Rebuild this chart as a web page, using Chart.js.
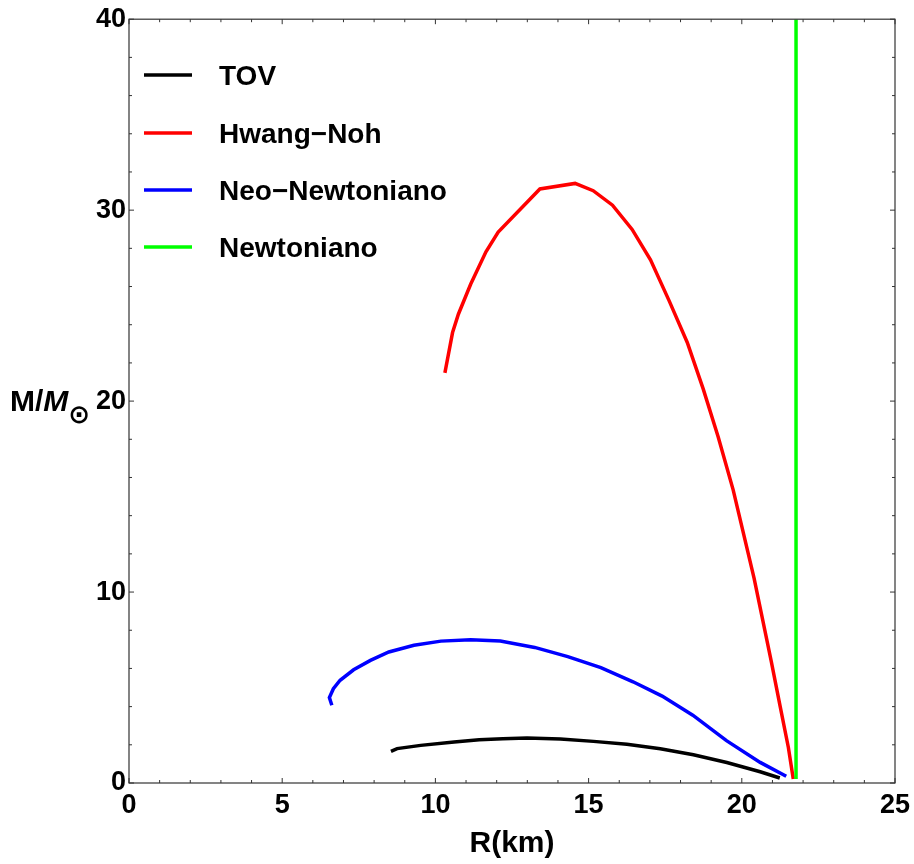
<!DOCTYPE html>
<html>
<head>
<meta charset="utf-8">
<script src="https://cdn.jsdelivr.net/npm/chart.js@4.4.1/dist/chart.umd.min.js"></script>
<style>
  html, body { margin: 0; padding: 0; background: #fff; }
  #wrap { width: 914px; height: 864px; }
</style>
</head>
<body>
<div id="wrap"><canvas id="chart" width="914" height="864"></canvas></div>
<script>
// series names
const names = ["TOV", "Hwang\u2212Noh", "Neo\u2212Newtoniano", "Newtoniano"]
const colors = ["#000000", "#ff0000", "#0000ff", "#00ff00"]

// TOV
const tovR = [8.55, 8.75, 9.52, 10.61, 11.43, 12.2, 12.99, 14.08, 15.16, 16.25, 17.34, 18.42, 19.51, 20.6, 21.24]
const tovM = [1.66, 1.8, 1.97, 2.15, 2.27, 2.32, 2.36, 2.3, 2.18, 2.03, 1.79, 1.48, 1.07, 0.59, 0.26]

// Hwang-Noh
const hnR = [10.31, 10.56, 10.75, 11.15, 11.65, 12.05, 13.41, 14.56, 15.15, 15.78, 16.42, 17.02, 17.63, 18.22, 18.74, 19.23, 19.72, 20.4, 20.96, 21.25, 21.52, 21.68]
const hnM = [21.48, 23.59, 24.55, 26.12, 27.82, 28.85, 31.11, 31.4, 31.02, 30.26, 28.99, 27.4, 25.25, 23.07, 20.64, 18.12, 15.34, 10.73, 6.38, 4.03, 1.86, 0.21]

// Neo-Newtoniano
const neoR = [6.62, 6.54, 6.67, 6.89, 7.33, 7.88, 8.48, 9.3, 10.18, 11.15, 12.12, 13.24, 14.32, 15.4, 16.45, 17.4, 18.4, 19.5, 20.6, 21.45]
const neoM = [4.07, 4.47, 4.94, 5.38, 5.93, 6.42, 6.86, 7.21, 7.43, 7.5, 7.44, 7.1, 6.62, 6.04, 5.3, 4.55, 3.55, 2.22, 1.08, 0.35]

// Newtoniano
const newtR = [21.77, 21.77]
const newtM = [0.21, 40]

// axes
const xTicks = [0, 5, 10, 15, 20, 25]
const yTicks = [0, 10, 20, 30, 40]

const toPoints = (rs, ms) => rs.map((r, i) => ({x: r, y: ms[i]}))

const seriesR = [tovR, hnR, neoR, newtR]
const seriesM = [tovM, hnM, neoM, newtM]

const datasets = names.map((name, i) => ({
  label: name,
  data: toPoints(seriesR[i], seriesM[i]),
  borderColor: colors[i],
  backgroundColor: colors[i],
  borderWidth: 3.5,
  showLine: true,
  pointRadius: 0,
  tension: 0,
  order: names.length - i
}))

const FONT = "'Liberation Sans', Arial, sans-serif"

// frame with inward ticks, legend and the y title (Mathematica style)
const framePlugin = {
  id: "frame",
  afterDatasetsDraw(chart) {
    const ctx = chart.ctx
    const a = chart.chartArea
    const xs = chart.scales.x, ys = chart.scales.y
    ctx.save()
    ctx.strokeStyle = "#333"
    ctx.lineWidth = 1.2
    ctx.strokeRect(a.left, a.top, a.right - a.left, a.bottom - a.top)
    ctx.lineWidth = 1
    for (let v = 0; v <= 25; v += 1) {
      const px = xs.getPixelForValue(v)
      const len = v % 5 === 0 ? 5 : 3
      ctx.beginPath()
      ctx.moveTo(px, a.bottom); ctx.lineTo(px, a.bottom - len)
      ctx.moveTo(px, a.top); ctx.lineTo(px, a.top + len)
      ctx.stroke()
    }
    for (let v = 0; v <= 40; v += 2) {
      const py = ys.getPixelForValue(v)
      const len = v % 10 === 0 ? 5 : 3
      ctx.beginPath()
      ctx.moveTo(a.left, py); ctx.lineTo(a.left + len, py)
      ctx.moveTo(a.right, py); ctx.lineTo(a.right - len, py)
      ctx.stroke()
    }

    // legend
    const rows = [75, 133, 190, 247]
    ctx.font = "bold 28px " + FONT
    ctx.textBaseline = "alphabetic"
    ctx.textAlign = "left"
    chart.data.datasets.forEach((ds, i) => {
      ctx.strokeStyle = ds.borderColor
      ctx.lineWidth = 3.5
      ctx.beginPath()
      ctx.moveTo(144, rows[i]); ctx.lineTo(192, rows[i])
      ctx.stroke()
      ctx.fillStyle = "#000"
      ctx.fillText(ds.label, 219, rows[i] + 10)
    })

    // y title M/M_sun
    ctx.fillStyle = "#000"
    ctx.font = "bold 30px " + FONT
    ctx.fillText("M/", 10, 411)
    let w = ctx.measureText("M/").width
    ctx.font = "italic bold 30px " + FONT
    ctx.fillText("M", 10 + w, 411)
    w += ctx.measureText("M").width
    ctx.font = "bold 26px 'DejaVu Sans'"
    ctx.fillText("\u2299", 10 + w, 423)
    ctx.restore()
  }
}

const tickFont = {family: FONT, size: 27, weight: "bold"}

new Chart(document.getElementById("chart"), {
  type: "scatter",
  data: {datasets: datasets},
  options: {
    responsive: false,
    animation: false,
    layout: {padding: {top: 18, right: 19, left: 0, bottom: 0}},
    plugins: {legend: {display: false}, tooltip: {enabled: false}},
    scales: {
      x: {
        type: "linear", min: 0, max: 25,
        afterBuildTicks: s => { s.ticks = xTicks.map(v => ({value: v})) },
        afterFit: s => { s.height = 81; s.paddingRight = 15; s.paddingLeft = 0 },
        grid: {display: false, drawTicks: false},
        border: {display: false},
        ticks: {font: tickFont, color: "#000", padding: 6, maxRotation: 0},
        title: {display: true, text: "R(km)", color: "#000",
                font: {family: FONT, size: 30, weight: "bold"}, padding: {top: 0, bottom: 2}}
      },
      y: {
        type: "linear", min: 0, max: 40,
        afterBuildTicks: s => { s.ticks = yTicks.map(v => ({value: v})) },
        afterFit: s => { s.width = 129 },
        grid: {display: false, drawTicks: false},
        border: {display: false},
        ticks: {font: tickFont, color: "#000", padding: 3}
      }
    }
  },
  plugins: [framePlugin]
})
</script>
</body>
</html>
